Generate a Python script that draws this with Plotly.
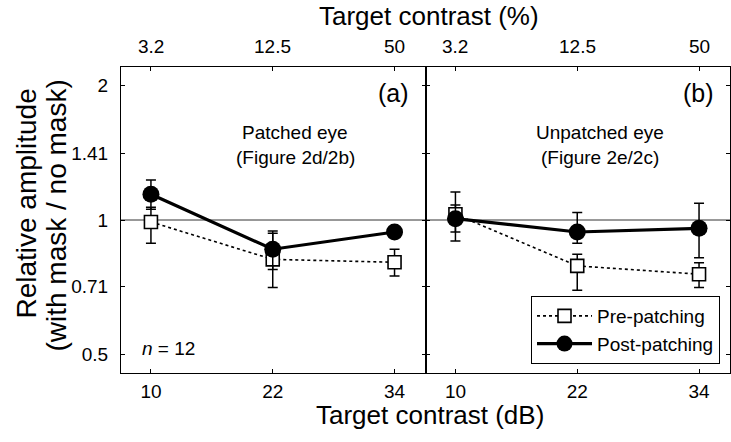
import plotly.graph_objects as go

# ---- data ----
contrast_db = [10, 22, 34]
contrast_pct_labels = ["3.2", "12.5", "50"]
y_tickvals = [0.5, 0.71, 1, 1.41, 2]
y_ticktext = ["0.5", "0.71", "1", "1.41", "2"]

# Panel (a) patched eye
a_pre = [0.99, 0.816, 0.804]
a_pre_hi = [1.068, 0.934, 0.860]
a_pre_lo = [0.887, 0.706, 0.749]
a_post = [1.142, 0.860, 0.940]
a_post_hi = [1.229, 0.945, 0.955]
a_post_lo = [1.057, 0.775, 0.925]

# Panel (b) unpatched eye
b_pre = [1.03, 0.789, 0.756]
b_pre_hi = [1.08, 0.838, 0.802]
b_pre_lo = [0.94, 0.696, 0.706]
b_post = [1.007, 0.940, 0.958]
b_post_hi = [1.155, 1.039, 1.090]
b_post_lo = [0.897, 0.887, 0.823]

W, H = 731, 442
BOX_L, BOX_R, BOX_T, BOX_B = 120.5, 730, 67, 373
ML = BOX_L
MR = W - BOX_R
MT = BOX_T
MB = H - BOX_B
PW = W - ML - MR
PH = H - MT - MB

def px(x):
    return (x - ML) / PW

def py(y):
    return (H - MB - y) / PH

FONT = "Liberation Sans, Arial, sans-serif"

def err(v, hi, lo):
    return dict(type="data", symmetric=False,
                array=[h - a for a, h in zip(v, hi)],
                arrayminus=[a - l for a, l in zip(v, lo)],
                color="black", thickness=1.5, width=5)

fig = go.Figure()
for xa, ya, pre, phi, plo, post, qhi, qlo, show in [
    ("x", "y", a_pre, a_pre_hi, a_pre_lo, a_post, a_post_hi, a_post_lo, True),
    ("x2", "y2", b_pre, b_pre_hi, b_pre_lo, b_post, b_post_hi, b_post_lo, False),
]:
    fig.add_trace(go.Scatter(
        x=contrast_db, y=pre, xaxis=xa, yaxis=ya, name="Pre-patching",
        mode="lines+markers", showlegend=show,
        line=dict(color="black", width=1.6, dash="3px,3px"),
        marker=dict(symbol="square", size=13, color="white",
                    line=dict(color="black", width=1.6)),
        error_y=err(pre, phi, plo)))
    fig.add_trace(go.Scatter(
        x=contrast_db, y=post, xaxis=xa, yaxis=ya, name="Post-patching",
        mode="lines+markers", showlegend=show,
        line=dict(color="black", width=3.2),
        marker=dict(symbol="circle", size=17, color="black",
                    line=dict(color="black", width=0)),
        error_y=err(post, qhi, qlo)))

xcommon = dict(range=[7.05, 37.05], tickvals=contrast_db, ticks="inside",
               ticklen=4, tickcolor="black", showline=True, linecolor="black",
               linewidth=1, mirror="ticks", showgrid=False, zeroline=False,
               ticklabelstandoff=1,
               tickfont=dict(size=19, color="black", family=FONT))
ycommon = dict(type="log", range=[-0.343, 0.343], tickvals=y_tickvals,
               ticktext=y_ticktext, ticks="inside", ticklen=4,
               tickcolor="black", showline=True, linecolor="black",
               linewidth=1, mirror="ticks", showgrid=False, zeroline=False,
               ticklabelstandoff=8,
               tickfont=dict(size=19, color="black", family=FONT))

fig.update_layout(
    width=W, height=H,
    margin=dict(l=ML, r=MR, t=MT, b=MB),
    paper_bgcolor="white", plot_bgcolor="white",
    font=dict(family=FONT, color="black"),
    xaxis=dict(domain=[0, 0.5], anchor="y", **xcommon),
    xaxis2=dict(domain=[0.5, 1], anchor="y2", **xcommon),
    yaxis=dict(domain=[0, 1], anchor="x", **ycommon),
    yaxis2=dict(domain=[0, 1], anchor="x2", showticklabels=False, **ycommon),
    legend=dict(x=px(720), y=py(364), xanchor="right", yanchor="bottom",
                bgcolor="white", bordercolor="black", borderwidth=1,
                font=dict(size=19, family=FONT, color="black"),
                itemwidth=55, tracegroupgap=0),
    showlegend=True,
)

# reference line at 1
for xr, yr in [("x domain", "y"), ("x2 domain", "y2")]:
    fig.add_shape(type="line", xref=xr, yref=yr, x0=0, x1=1, y0=1, y1=1,
                  line=dict(color="#333333", width=1), layer="below")

def note(xp, yp, text, size, xanchor="center", angle=0):
    return dict(x=px(xp), y=py(yp), xref="paper", yref="paper", text=text,
                xanchor=xanchor, yanchor="middle", textangle=angle,
                showarrow=False, font=dict(size=size, family=FONT))

ann = []
# top axis labels (percent), placed on the dB scale
for xa in ["x", "x2"]:
    for v, t in zip(contrast_db, contrast_pct_labels):
        ann.append(dict(x=v, xref=xa, y=py(46), yref="paper", text=t,
                        xanchor="center", yanchor="middle",
                        showarrow=False, font=dict(size=19, family=FONT)))
ann += [
    note(429, 16, "Target contrast (%)", 26),
    note(430, 415, "Target contrast (dB)", 26),
    note(25, 204, "Relative amplitude", 28, angle=-90),
    note(55, 216, "(with mask / no mask)", 28, angle=-90),
    note(411, 93, "(a)", 25, xanchor="right"),
    note(716, 93, "(b)", 25, xanchor="right"),
    note(295, 132, "Patched eye", 19),
    note(295, 157, "(Figure 2d/2b)", 19),
    note(600, 132, "Unpatched eye", 19),
    note(600, 157, "(Figure 2e/2c)", 19),
    note(140, 348, "<i>n</i> = 12", 19, xanchor="left"),
]
fig.update_layout(annotations=ann)

fig.write_html("out.html",
               config={"displayModeBar": False},
               post_script="document.body.style.margin='0px';")
